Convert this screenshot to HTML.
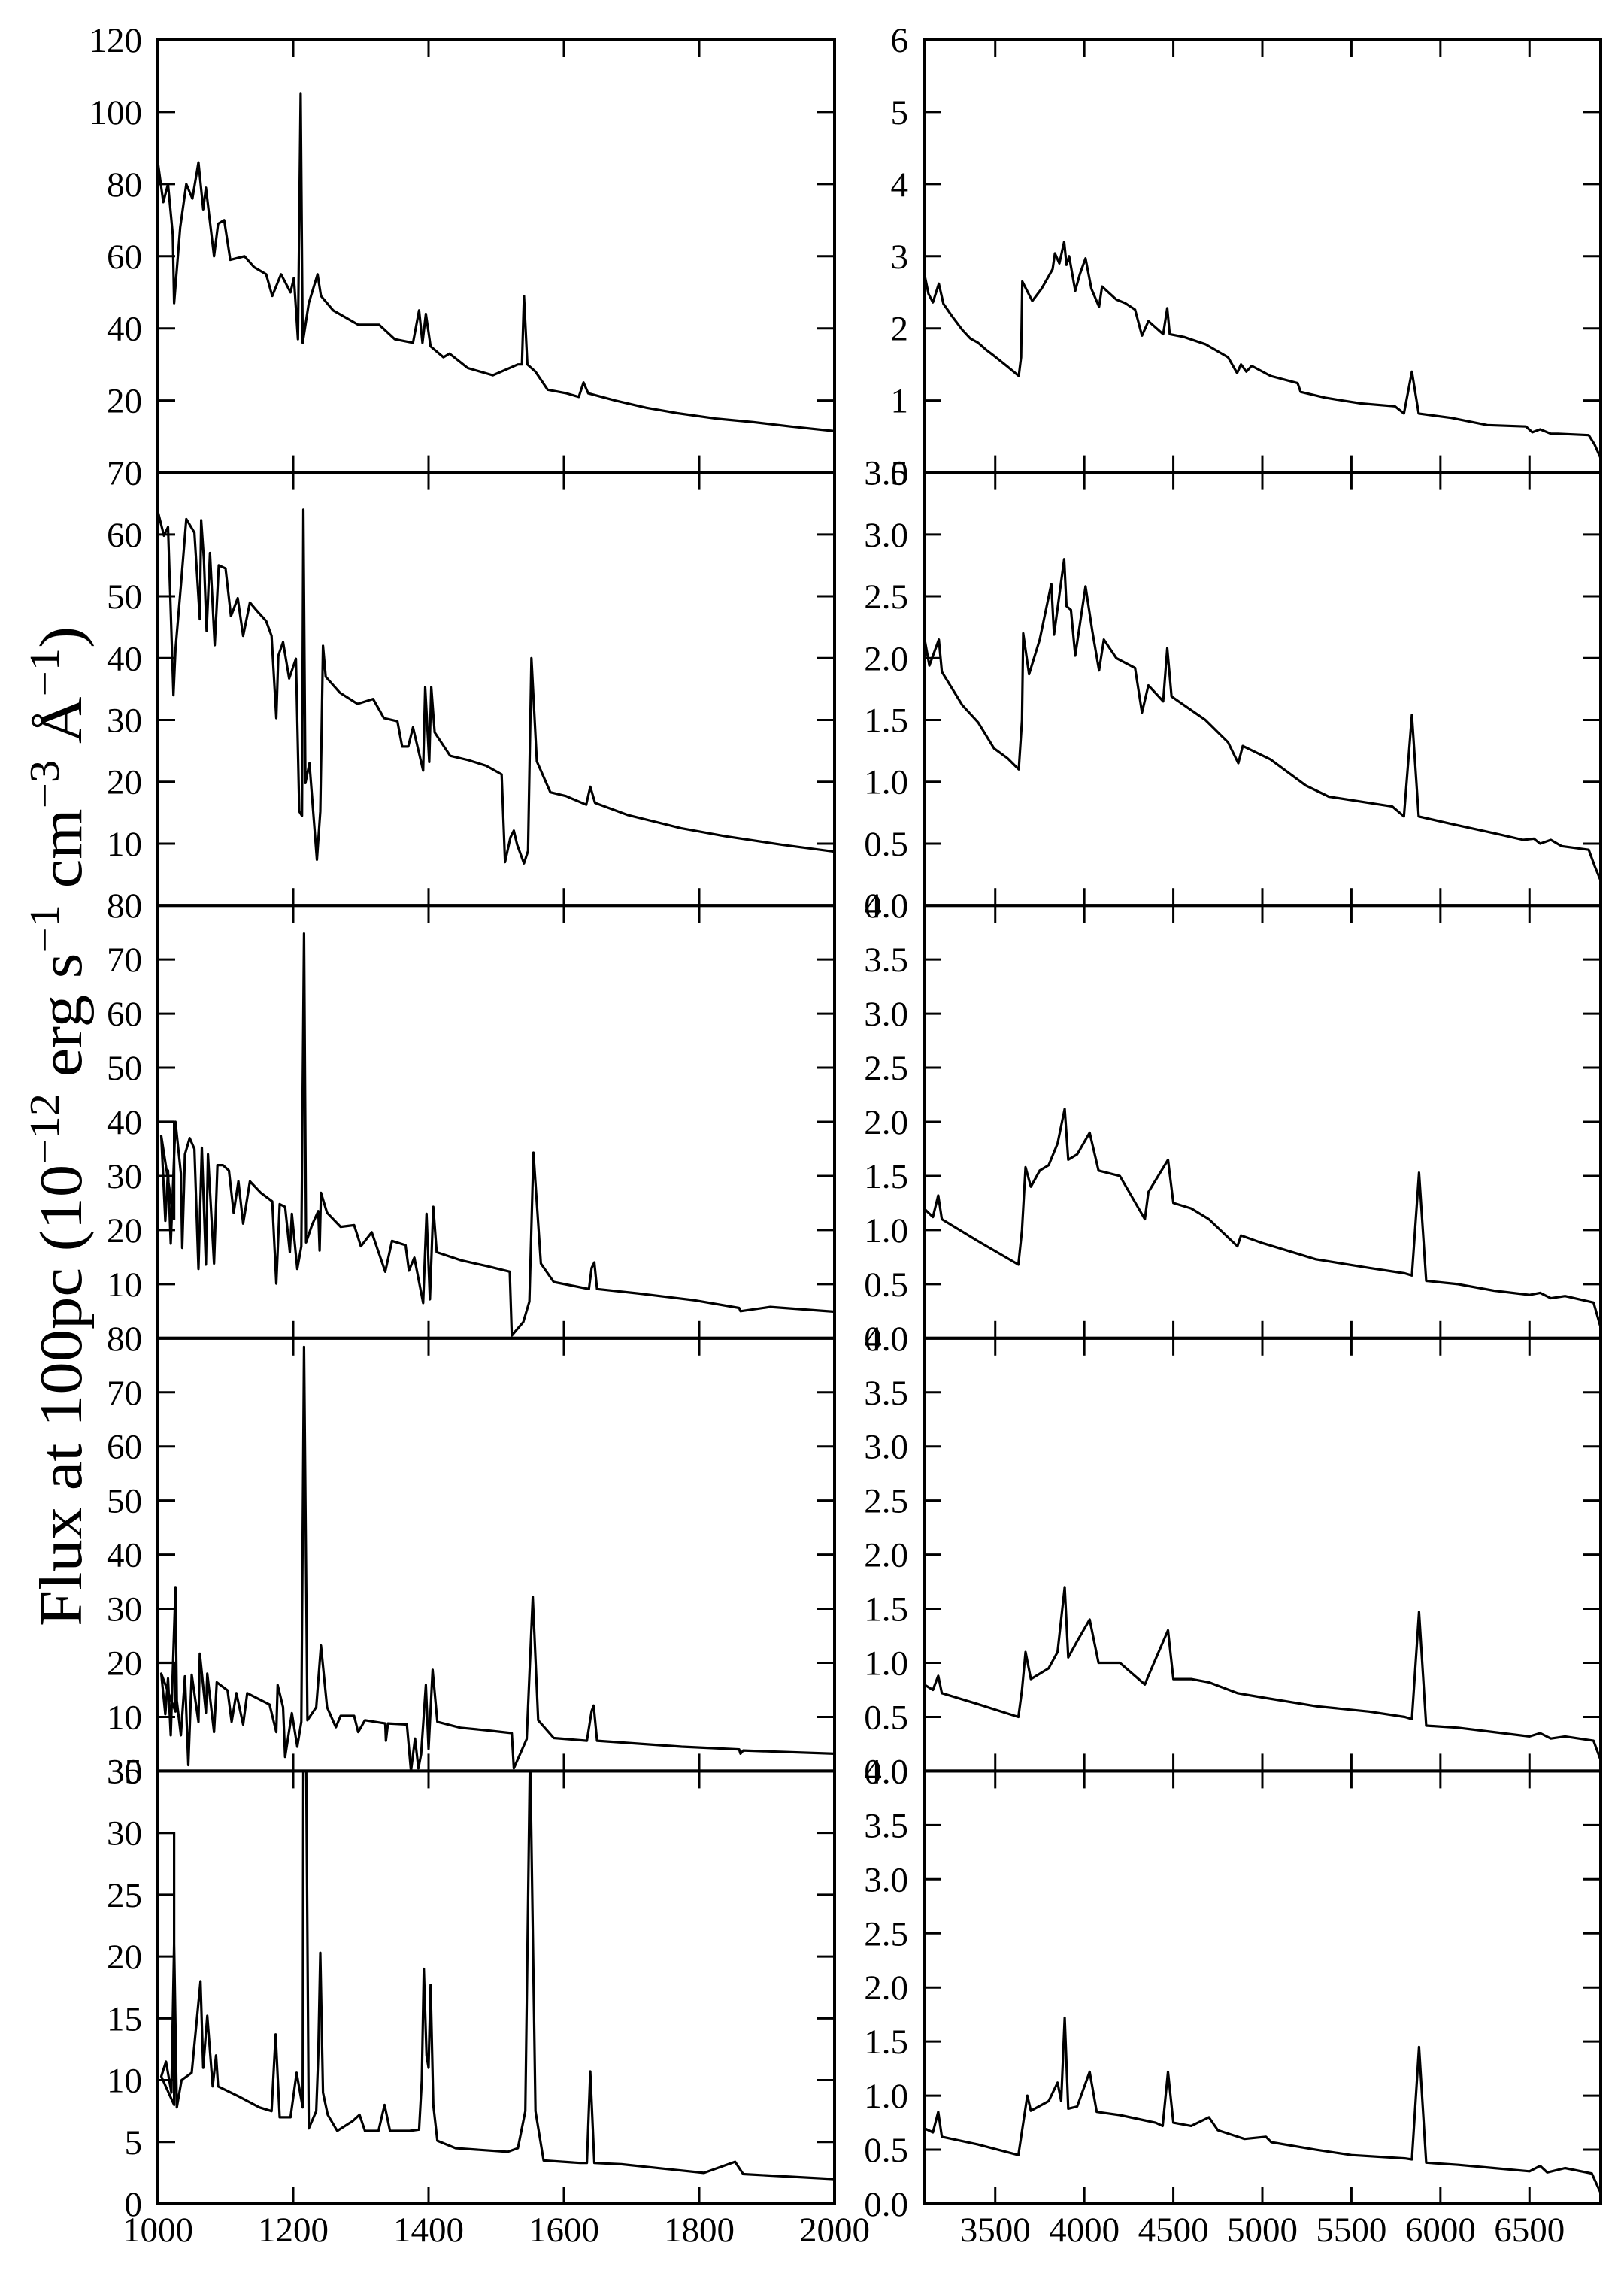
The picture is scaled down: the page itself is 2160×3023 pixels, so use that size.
<!DOCTYPE html>
<html><head><meta charset="utf-8"><style>
html,body{margin:0;padding:0;background:#fff;}
svg{display:block;}
text{font-family:"Liberation Serif",serif;fill:#000;}
</style></head><body>
<svg id="fig" width="2160" height="3023" viewBox="0 0 2160 3023" xmlns="http://www.w3.org/2000/svg">
<rect width="2160" height="3023" fill="#fff"/>
<text transform="translate(108,1498) rotate(-90)" text-anchor="middle" font-size="80" textLength="1330" lengthAdjust="spacingAndGlyphs">Flux at 100pc (10<tspan dy="-30" font-size="56">−12</tspan><tspan dy="30"> erg s</tspan><tspan dy="-30" font-size="56">−1</tspan><tspan dy="30"> cm</tspan><tspan dy="-30" font-size="56">−3</tspan><tspan dy="30"> Å</tspan><tspan dy="-30" font-size="56">−1</tspan><tspan dy="30">)</tspan></text>
</svg>
<script>
// ---- data ----
const uvW1=[1000,1008,1015,1022,1024,1033,1042,1051,1060,1067,1071,1083,1089,1098,1107,1128,1142,1160,1169,1182,1196,1201,1207,1211,1214,1223,1236,1241,1259,1296,1327,1350,1377,1386,1391,1396,1403,1422,1431,1458,1495,1532,1538,1541,1546,1558,1576,1604,1622,1629,1636,1676,1722,1768,1824,1880,1935,2000];
const uvF1=[86,75,80,66,47,68,80,76,86,73,79,60,69,70,59,60,57,55,49,55,50,54,37,105,36,47,55,49,45,41,41,37,36,45,36,44,35,32,33,29,27,30,30,49,30,28,23,22,21,25,22,20,18,16.5,15,14,12.8,11.5];
const uvW2=[1000,1009,1015,1023,1026,1034,1042,1054,1062,1064,1068,1072,1077,1084,1090,1100,1108,1118,1126,1136,1146,1160,1168,1175,1178,1185,1194,1204,1209,1213,1215,1218,1224,1235,1240,1244,1248,1269,1295,1318,1334,1354,1361,1370,1377,1392,1395,1401,1404,1409,1432,1459,1485,1508,1513,1521,1526,1531,1541,1547,1552,1560,1580,1603,1633,1639,1646,1695,1773,1838,1923,2000];
const uvF2=[63.7,59.8,61.2,34,41.4,51.7,62.5,60.3,46.3,62.3,56,44.4,57,42.1,55,54.5,46.8,49.7,43.6,49,47.7,46,43.6,30.3,40.4,42.6,36.7,39.9,15.2,14.5,64,19.8,23,7.4,15.2,42,37,34.4,32.6,33.4,30.3,29.8,25.7,25.7,28.8,21.8,35.3,23.2,35.3,28,24.2,23.5,22.6,21.2,7,11,12.1,9.8,6.8,8.8,40,23.3,18.3,17.7,16.3,19.2,16.6,14.6,12.5,11.2,9.8,8.7];
const uvW3=[1000,1000,1024,1024,1005,1011,1015,1019,1026,1034,1036,1040,1047,1054,1060,1065,1071,1074,1083,1088,1096,1105,1112,1119,1126,1136,1152,1169,1175,1180,1188,1195,1198,1206,1212,1216,1219,1228,1237,1239,1241,1250,1270,1290,1300,1316,1336,1346,1366,1371,1379,1392,1397,1402,1407,1412,1448,1487,1520,1523,1540,1549,1555,1566,1585,1637,1641,1645,1649,1709,1794,1859,1861,1905,2000];
const uvF3=[30,40,40,22,37.4,21.7,31,17.5,40,30.5,16.7,34,37,35,12.8,35.2,13.6,34,13.8,32,32,31,23.2,29,21.2,29,26.9,25.3,10.1,24.8,24.3,15.9,23,12.8,17,74.8,17.7,21,23.5,16.2,26.9,23.2,20.6,20.9,17,19.6,12.3,18,17.2,12.5,14.9,6.5,23,7.2,24.3,15.9,14.4,13.3,12.3,0.5,3,6.8,34.3,13.8,10.4,9.1,13,14,9.1,8.3,7,5.6,5,5.8,4.9];
const uvW4=[1000,1026,1026,1005,1011,1015,1019,1026,1028,1034,1040,1045,1050,1060,1062,1071,1073,1083,1087,1103,1109,1116,1126,1132,1165,1175,1177,1185,1188,1198,1206,1212,1216,1221,1234,1241,1250,1263,1270,1290,1296,1306,1336,1337,1340,1368,1374,1380,1385,1389,1396,1400,1406,1413,1447,1487,1523,1526,1545,1554,1562,1585,1634,1641,1644,1649,1774,1859,1861,1865,2000];
const uvF4=[20,20,11,18,10.5,17.1,6.6,34,13,6.6,17.5,1.1,17.8,9.1,21.7,10.8,18,7.2,16.4,14.9,9.1,14.4,8.6,14.4,12.3,7.2,15.9,11.8,2.6,10.7,4.5,9.1,78.4,9.4,11.8,23.2,11.8,8.1,10.2,10.2,7.2,9.4,8.8,5.6,8.8,8.6,0,6,0.5,3.1,15.9,4.1,18.7,9.1,8,7.5,7,0.5,5.9,32.2,9.4,6.1,5.6,11.1,12.1,5.6,4.5,4,3.2,3.8,3.2];
const uvW5=[1000,1024,1024,1005,1012,1020,1024,1028,1035,1050,1063,1067,1073,1081,1086,1089,1119,1150,1168,1174,1180,1196,1205,1214,1215,1219,1223,1234,1237,1240,1244,1251,1265,1288,1298,1306,1326,1335,1343,1372,1386,1390,1393,1397,1400,1403,1407,1413,1440,1517,1532,1543,1550,1558,1570,1624,1634,1639,1645,1685,1807,1853,1865,2000];
const uvF5=[30,30,8,10.3,11.5,9,21,7.8,10,10.6,18,11,15.2,9.5,12,9.5,8.7,7.8,7.5,13.7,7,7,10.6,7.8,40,40,6.1,7.5,12,20.3,9,7.2,5.9,6.7,7.2,5.9,5.9,8,5.9,5.9,6,10,19,12,11,17.7,8,5.1,4.5,4.2,4.5,7.5,40,7.5,3.5,3.3,3.3,10.7,3.3,3.2,2.5,3.4,2.4,2.0];

const opW1=[3100,3125,3150,3183,3209,3260,3315,3360,3404,3450,3493,3569,3632,3645,3652,3708,3760,3822,3835,3860,3887,3900,3915,3949,3975,4007,4040,4083,4100,4180,4230,4285,4324,4360,4443,4466,4480,4560,4680,4807,4858,4880,4910,4940,5046,5198,5215,5351,5450,5554,5744,5795,5840,5878,6060,6263,6480,6516,6560,6620,6660,6833,6866,6900];
const opF1=[2.78,2.48,2.36,2.62,2.34,2.16,1.98,1.86,1.80,1.70,1.62,1.47,1.34,1.6,2.65,2.38,2.55,2.82,3.04,2.9,3.2,2.88,3.0,2.52,2.75,2.97,2.55,2.30,2.58,2.4,2.35,2.26,1.90,2.10,1.92,2.28,1.92,1.88,1.78,1.60,1.38,1.50,1.40,1.48,1.34,1.24,1.12,1.04,1.0,0.96,0.92,0.82,1.40,0.82,0.76,0.66,0.64,0.56,0.60,0.54,0.54,0.52,0.39,0.2];
const opW2=[3100,3130,3183,3200,3315,3404,3493,3569,3632,3650,3657,3690,3750,3815,3830,3887,3900,3925,3949,4007,4045,4083,4110,4180,4285,4324,4360,4443,4466,4490,4680,4807,4865,4890,5046,5244,5373,5730,5795,5840,5878,6060,6314,6465,6525,6560,6620,6680,6833,6866,6900];
const opF2=[2.18,1.94,2.15,1.89,1.62,1.48,1.27,1.19,1.10,1.5,2.20,1.87,2.15,2.60,2.19,2.80,2.42,2.39,2.02,2.58,2.22,1.90,2.15,2.0,1.92,1.56,1.78,1.65,2.08,1.69,1.50,1.32,1.15,1.29,1.18,0.97,0.88,0.80,0.72,1.54,0.72,0.66,0.58,0.53,0.54,0.50,0.53,0.48,0.45,0.32,0.2];
const opW3=[3100,3150,3180,3200,3400,3630,3650,3670,3700,3750,3800,3850,3890,3910,3960,4030,4080,4200,4340,4360,4470,4500,4600,4700,4860,4880,5000,5300,5600,5800,5840,5880,5920,6100,6300,6500,6560,6620,6700,6860,6900];
const opF3=[1.2,1.12,1.32,1.1,0.9,0.68,1.0,1.58,1.4,1.55,1.6,1.8,2.12,1.65,1.7,1.9,1.55,1.5,1.1,1.35,1.65,1.25,1.2,1.1,0.85,0.95,0.88,0.73,0.65,0.6,0.58,1.53,0.53,0.5,0.44,0.4,0.42,0.37,0.39,0.33,0.1];
const opW4=[3100,3150,3180,3200,3400,3630,3650,3670,3700,3800,3850,3890,3910,3960,4030,4080,4200,4340,4360,4470,4500,4600,4700,4860,5000,5300,5600,5800,5840,5880,5920,6100,6300,6500,6560,6620,6700,6860,6900];
const opF4=[0.8,0.75,0.88,0.72,0.62,0.5,0.75,1.1,0.85,0.95,1.1,1.7,1.05,1.2,1.4,1.0,1.0,0.8,0.88,1.3,0.85,0.85,0.82,0.72,0.68,0.6,0.55,0.5,0.48,1.47,0.42,0.4,0.36,0.32,0.35,0.3,0.32,0.28,0.1];
const opW5=[3100,3150,3180,3200,3400,3630,3680,3700,3800,3850,3870,3890,3910,3960,4030,4070,4200,4400,4440,4470,4500,4600,4700,4750,4900,5020,5050,5300,5500,5800,5840,5880,5920,6100,6300,6500,6560,6600,6700,6850,6900];
const opF5=[0.7,0.66,0.85,0.62,0.55,0.45,1.0,0.86,0.95,1.12,0.95,1.72,0.88,0.9,1.22,0.85,0.82,0.75,0.72,1.22,0.75,0.72,0.8,0.68,0.6,0.62,0.57,0.5,0.45,0.42,0.41,1.45,0.38,0.36,0.33,0.3,0.35,0.29,0.33,0.28,0.1];

const uvYmax=[120,70,80,80,35];
const uvYstep=[20,10,10,10,5];
const opYmax=[6,3.5,4,4,4];
const opYstep=[1,0.5,0.5,0.5,0.5];
const uvXticks=[1000,1200,1400,1600,1800,2000];
const opXticks=[3500,4000,4500,5000,5500,6000,6500];

// ---- layout ----
const NS="http://www.w3.org/2000/svg";
const svg=document.getElementById('fig');
const tops=[53,628.6,1204.2,1779.8,2355.4], PH=575.6;
const L={x0:210,x1:1110,xmin:1000,xmax:2000}, R={x0:1229,x1:2129,xmin:3100,xmax:6900};
function mk(tag,attrs,parent){const e=document.createElementNS(NS,tag);for(const k in attrs)e.setAttribute(k,attrs[k]);(parent||svg).appendChild(e);return e;}
const uvW=[uvW1,uvW2,uvW3,uvW4,uvW5], uvF=[uvF1,uvF2,uvF3,uvF4,uvF5];
const opW=[opW1,opW2,opW3,opW4,opW5], opF=[opF1,opF2,opF3,opF4,opF5];

function panel(P,i,ws,fs,ymax,ystep,xticks,side,decimals){
  const top=tops[i], bot=top+PH;
  const sx=v=>P.x0+(v-P.xmin)/(P.xmax-P.xmin)*(P.x1-P.x0);
  const sy=v=>bot-v/ymax*PH;
  const g=mk('g',{});
  
  
  const cid='clip-'+side+i;
  const cp=mk('clipPath',{id:cid},g);
  mk('rect',{x:P.x0,y:top,width:P.x1-P.x0,height:PH},cp);
  let d='';
  for(let k=0;k<ws.length;k++){d+=(k?'L':'M')+sx(ws[k]).toFixed(1)+' '+sy(Math.min(fs[k],ymax*1.05)).toFixed(1);}
  const p=mk('path',{d:d,fill:'none',stroke:'#000','stroke-width':3.2,'stroke-linejoin':'round','clip-path':'url(#'+cid+')'},g);
  
  
  const n=Math.round(ymax/ystep);
  for(let k=0;k<=n;k++){
    const v=k*ystep, y=sy(v);
    if(k>0&&k<n){
      mk('line',{x1:P.x0,x2:P.x0+23,y1:y,y2:y,stroke:'#000','stroke-width':3},g);
      mk('line',{x1:P.x1-23,x2:P.x1,y1:y,y2:y,stroke:'#000','stroke-width':3},g);
    }
    const t=mk('text',{x:P.x0-21,y:y+16,'text-anchor':'end','font-size':47},g);
    
    
    t.textContent=decimals?v.toFixed(1):String(v);
  }
  xticks.forEach(v=>{
    if(v<=P.xmin||v>=P.xmax)return;
    const x=sx(v);
    mk('line',{x1:x,x2:x,y1:top,y2:top+23,stroke:'#000','stroke-width':3},g);
    mk('line',{x1:x,x2:x,y1:bot-23,y2:bot,stroke:'#000','stroke-width':3},g);
  });
  if(i===4){
    xticks.forEach(v=>{
      const t=mk('text',{x:sx(v),y:bot+50,'text-anchor':'middle','font-size':47},g);
      
      
      t.textContent=String(v);
    });
  }
  const fr=mk('rect',{x:P.x0,y:top,width:P.x1-P.x0,height:PH,fill:'none',stroke:'#000','stroke-width':4},g);
  
  
}
for(let i=0;i<5;i++){
  panel(L,i,uvW[i],uvF[i],uvYmax[i],uvYstep[i],uvXticks,'uv',false);
  panel(R,i,opW[i],opF[i],opYmax[i],opYstep[i],opXticks,'optical',i>0);
}
</script>
</body></html>
